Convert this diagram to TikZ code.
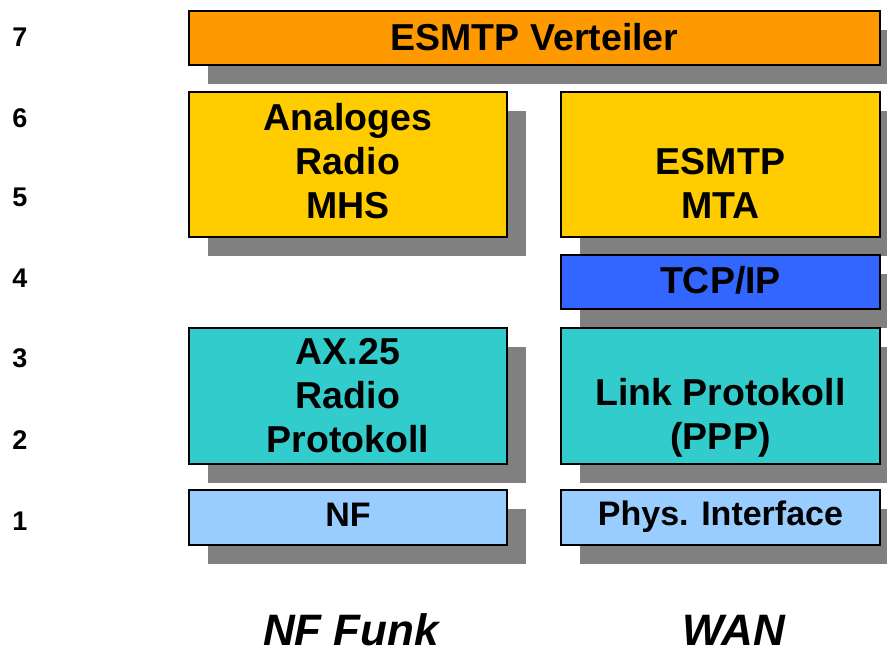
\documentclass[tikz,border=0pt]{standalone}
\usepackage{fontspec}
\setmainfont{Liberation Sans}
\usetikzlibrary{shadows}
\definecolor{cOrange}{HTML}{FF9900}
\definecolor{cYellow}{HTML}{FFCC00}
\definecolor{cBlue}{HTML}{3366FF}
\definecolor{cTeal}{HTML}{33CCCC}
\definecolor{cLight}{HTML}{99CCFF}
\definecolor{cShadow}{HTML}{808080}
\begin{document}
\begin{tikzpicture}[x=1pt,y=-1pt,
  layerbox/.style={draw=black, line width=1.4pt, fill=#1, inner sep=0pt,
    drop shadow={shadow xshift=19pt, shadow yshift=-19pt, fill=cShadow, opacity=1}},
  lbl/.style={font=\fontsize{37.5}{44}\selectfont\bfseries, align=center, inner sep=0pt},
  smalllbl/.style={font=\fontsize{34}{40}\selectfont\bfseries, align=center, inner sep=0pt},
  numlbl/.style={font=\fontsize{27}{30}\selectfont\bfseries, inner sep=0pt},
  collbl/.style={font=\fontsize{44}{50}\selectfont\bfseries\itshape, inner sep=0pt}]
\useasboundingbox (0,0) rectangle (887,655);
% boxes
\node[layerbox=cOrange, minimum width=691pt, minimum height=54pt] (b7) at (534.5,38) {};
\node[layerbox=cYellow, minimum width=318pt, minimum height=145pt] (bl56) at (348,164.5) {};
\node[layerbox=cYellow, minimum width=319pt, minimum height=145pt] (br56) at (720.5,164.5) {};
\node[layerbox=cBlue, minimum width=319pt, minimum height=54pt] (br4) at (720.5,282) {};
\node[layerbox=cTeal, minimum width=318pt, minimum height=136pt] (bl23) at (348,396) {};
\node[layerbox=cTeal, minimum width=319pt, minimum height=136pt] (br23) at (720.5,396) {};
\node[layerbox=cLight, minimum width=318pt, minimum height=55pt] (bl1) at (348,517.5) {};
\node[layerbox=cLight, minimum width=319pt, minimum height=55pt] (br1) at (720.5,517.5) {};
% texts
\node[lbl] (t7) at (534.5,37) {ESMTP Verteiler};
\node[lbl] (tl56) at (348,161) {Analoges\\Radio\\MHS};
\node[lbl] (tr56) at (720.5,183) {ESMTP\\MTA};
\node[lbl] (tr4) at (720.5,280) {TCP/IP};
\node[lbl] (tl23) at (348,396) {AX.25\\Radio\\Protokoll};
\node[lbl] (tr23) at (720.5,418) {Link Protokoll\\(PPP)};
\node[smalllbl] (tl1) at (348,515) {NF};
\node[smalllbl] (tr1) at (720.5,517) {Phys. Interface};
% layer numbers
\node[numlbl] (n7) at (20,37) {7};
\node[numlbl] (n6) at (20,118) {6};
\node[numlbl] (n5) at (20,197) {5};
\node[numlbl] (n4) at (20,278) {4};
\node[numlbl] (n3) at (20,358) {3};
\node[numlbl] (n2) at (20,440) {2};
\node[numlbl] (n1) at (20,521) {1};
% column labels
\node[collbl] (c1) at (351,630) {NF Funk};
\node[collbl] (c2) at (734,630) {WAN};
\end{tikzpicture}
\end{document}
